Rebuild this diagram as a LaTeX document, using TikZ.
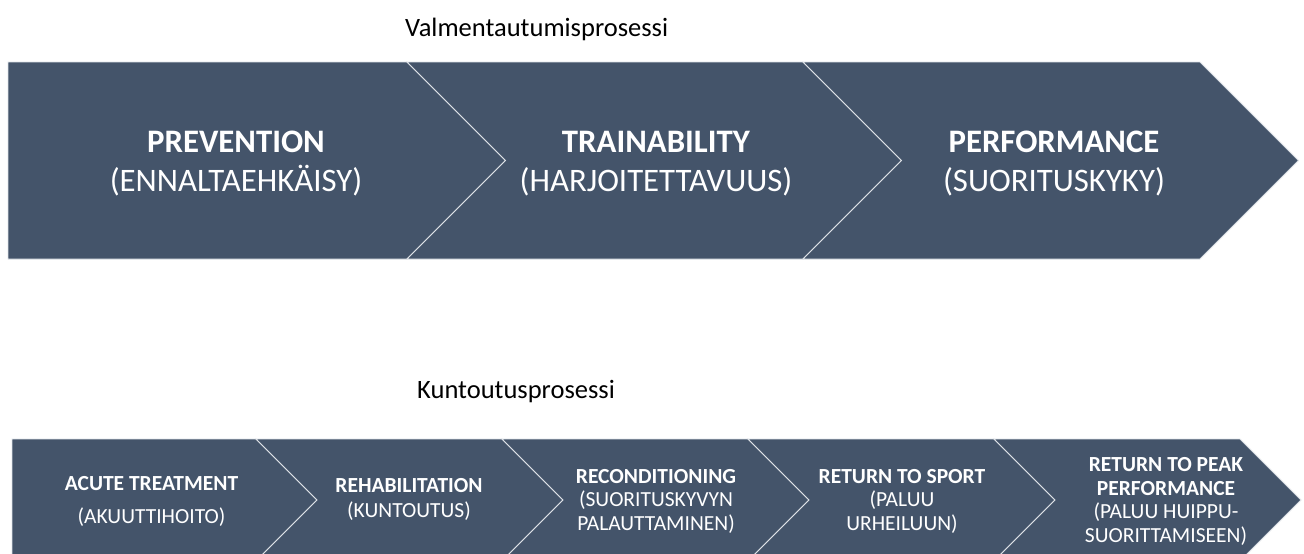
\documentclass[tikz,border=0pt]{standalone}
\usepackage{fontspec}
\setmainfont{Carlito}
\definecolor{slate}{RGB}{68,84,106}
\definecolor{seam}{RGB}{222,226,231}
\begin{document}
\begin{tikzpicture}[x=1pt,y=-1pt,
  band/.style={fill=slate,draw=seam,line width=0.9pt,line join=miter},
  biglabel/.style={text=white,align=center,inner sep=0pt,anchor=base,
    font=\fontsize{32.8}{39}\selectfont},
  smalllabel/.style={text=white,align=center,inner sep=0pt,anchor=base,
    font=\fontsize{21.5}{23.5}\selectfont},
  heading/.style={text=black,inner sep=0pt,anchor=base west,
    font=\fontsize{26.5}{30}\selectfont}]
\useasboundingbox (0,0) rectangle (1304,554);
\clip (0,0) rectangle (1304,554);

% ---- upper process: three chevrons ----
\def\tT{62}\def\tB{259}\def\tM{160.5}\def\tD{98.5}
\path[band] (8,\tT) -- (407,\tT) -- (407+\tD,\tM) -- (407,\tB) -- (8,\tB) -- cycle;
\path[band] (407,\tT) -- (803,\tT) -- (803+\tD,\tM) -- (803,\tB) -- (407,\tB) -- (407+\tD,\tM) -- cycle;
\path[band] (803,\tT) -- (1200,\tT) -- (1200+\tD,\tM) -- (1200,\tB) -- (803,\tB) -- (803+\tD,\tM) -- cycle;

% labels are anchored on the baseline of their last line
\node[heading] (h1) at (405,36) {Valmentautumisprosessi};
\node[biglabel] (p1) at (236,191) {\textbf{PREVENTION}\\(ENNALTAEHKÄISY)};
\node[biglabel] (p2) at (656,191) {\textbf{TRAINABILITY}\\(HARJOITETTAVUUS)};
\node[biglabel] (p3) at (1054,191) {\textbf{PERFORMANCE}\\(SUORITUSKYKY)};

% ---- lower process: five chevrons ----
\def\bT{439}\def\bB{561}\def\bM{500}\def\bD{61}
\path[band] (12,\bT) -- (256,\bT) -- (256+\bD,\bM) -- (256,\bB) -- (12,\bB) -- cycle;
\foreach \a/\b in {256/502,502/748,748/994,994/1240}{
  \path[band] (\a,\bT) -- (\b,\bT) -- (\b+\bD,\bM) -- (\b,\bB) -- (\a,\bB) -- (\a+\bD,\bM) -- cycle;
}

\node[heading] (h2) at (417,398) {Kuntoutusprosessi};
\node[smalllabel] (k1) at (151.5,523) {\textbf{ACUTE TREATMENT}\\[9.5pt](AKUUTTIHOITO)};
\node[smalllabel] (k2) at (409,517) {\textbf{REHABILITATION}\\[1.5pt](KUNTOUTUS)};
\node[smalllabel] (k3) at (656,530) {\textbf{RECONDITIONING}\\(SUORITUSKYVYN\\PALAUTTAMINEN)};
\node[smalllabel] (k4) at (902,530) {\textbf{RETURN TO SPORT}\\(PALUU\\URHEILUUN)};
\node[smalllabel] (k5) at (1166,542) {\textbf{RETURN TO PEAK}\\\textbf{PERFORMANCE}\\(PALUU HUIPPU-\\SUORITTAMISEEN)};
\end{tikzpicture}
\end{document}
